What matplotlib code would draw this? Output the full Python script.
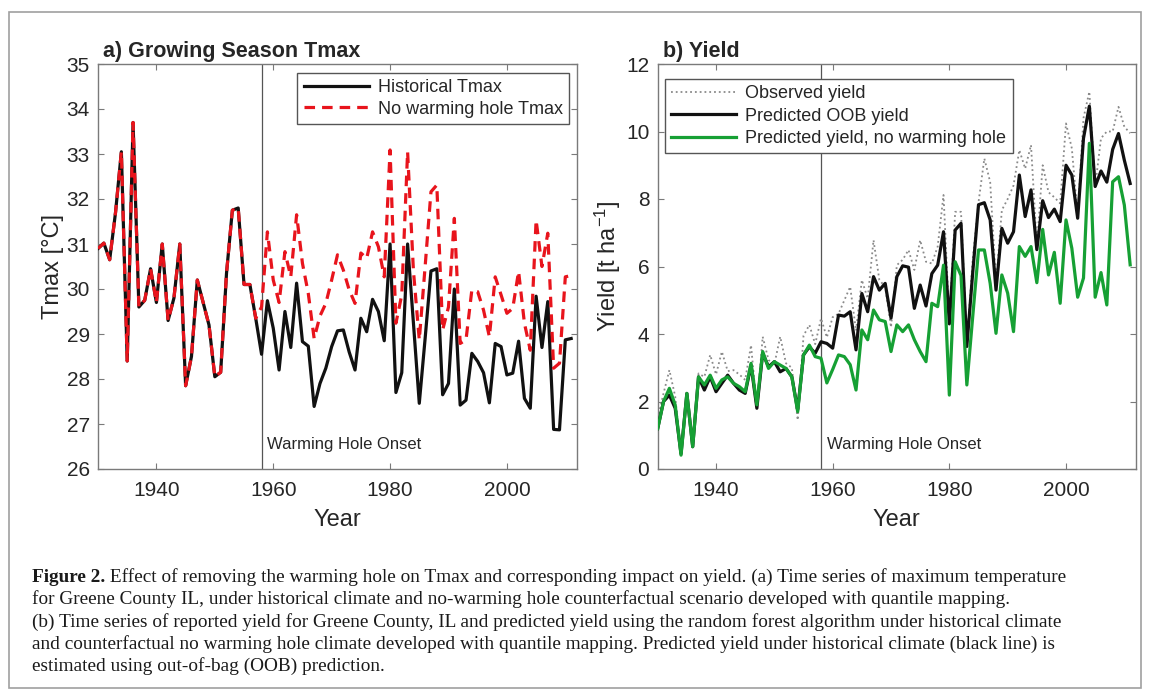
import numpy as np
import matplotlib
matplotlib.use("Agg")
import matplotlib.pyplot as plt
from matplotlib.patches import Rectangle

plt.rcParams['font.family'] = ['Liberation Sans', 'DejaVu Sans']
plt.rcParams['mathtext.fontset'] = 'custom'
plt.rcParams['mathtext.rm'] = 'Liberation Sans'
plt.rcParams['mathtext.it'] = 'Liberation Sans:italic'

years = np.arange(1930, 2012)

# growing season Tmax, historical (1930-2011)
tmax_hist = [30.9, 31.02, 30.65, 31.7, 33.05, 28.4, 33.7, 29.6, 29.75, 30.45,
             29.7, 31.0, 29.3, 29.8, 31.0, 27.85, 28.5, 30.2, 29.7, 29.2,
             28.05, 28.15, 30.35, 31.75, 31.8, 30.1, 30.1, 29.35, 28.55, 29.74,
             29.13, 28.2, 29.5, 28.7, 30.13, 28.83, 28.73, 27.39, 27.9, 28.24,
             28.72, 29.07, 29.09, 28.6, 28.2, 29.35, 29.05, 29.77, 29.5, 28.85,
             31.0, 27.7, 28.14, 31.0, 29.24, 27.46, 28.9, 30.4, 30.45, 27.65,
             27.9, 30.0, 27.42, 27.53, 28.57, 28.39, 28.14, 27.47, 28.79, 28.72,
             28.09, 28.13, 28.84, 27.57, 27.35, 29.84, 28.7, 29.72, 26.88, 26.87,
             28.87, 28.9]

# no warming hole Tmax from the onset year (1958-2011), same as historical before
onset = 1958
tmax_nowh_after = [29.6, 31.27, 30.2, 29.7, 30.83, 30.27, 31.65, 30.57, 29.9, 28.9,
                   29.4, 29.68, 30.2, 30.76, 30.42, 29.98, 29.68, 30.8, 30.68, 31.27,
                   30.94, 30.27, 33.09, 29.24, 29.87, 33.05, 30.4, 28.87, 30.5, 32.16,
                   32.31, 29.09, 29.6, 31.57, 28.79, 28.87, 29.98, 29.94, 29.53, 28.94,
                   30.27, 29.87, 29.46, 29.57, 30.39, 29.24, 28.64, 31.53, 30.5, 31.24,
                   28.24, 28.35, 30.27, 30.3]

# yield [t/ha]
yield_obs = [1.5, 2.24, 2.93, 2.15, 0.45, 2.24, 0.66, 2.83, 2.73, 3.38,
             2.8, 3.48, 2.9, 2.93, 2.8, 2.64, 3.67, 1.8, 3.92, 3.23,
             3.1, 3.92, 3.13, 3.0, 1.45, 3.95, 4.27, 3.7, 4.46, 3.9,
             4.5, 4.6, 5.0, 5.4, 4.1, 5.6, 5.05, 6.78, 5.6, 5.4,
             4.2, 6.04, 6.2, 6.49, 5.9, 6.78, 6.14, 6.09, 6.59, 8.12,
             4.4, 7.62, 7.62, 3.7, 6.2, 7.9, 9.2, 8.5, 5.5, 7.67,
             8.0, 8.4, 9.45, 8.9, 9.6, 6.6, 9.0, 8.2, 8.05, 7.87,
             10.24, 9.5, 7.5, 10.4, 11.18, 8.37, 9.8, 10.0, 10.0, 10.73,
             10.14, 9.95]
yield_oob = [1.2, 2.0, 2.19, 1.8, 0.45, 2.24, 0.66, 2.73, 2.34, 2.73,
             2.29, 2.54, 2.78, 2.54, 2.34, 2.24, 3.08, 1.8, 3.43, 3.03,
             3.18, 2.88, 2.98, 2.73, 1.75, 3.38, 3.62, 3.43, 3.77, 3.72,
             3.58, 4.56, 4.53, 4.66, 3.53, 5.2, 4.66, 5.7, 5.3, 5.5,
             4.47, 5.7, 6.02, 5.98, 4.76, 5.45, 4.83, 5.79, 6.04, 7.03,
             4.3, 7.08, 7.28, 3.63, 5.8, 7.83, 7.89, 7.38, 5.3, 7.13,
             6.69, 7.03, 8.71, 7.48, 8.27, 6.5, 7.95, 7.45, 7.7, 7.33,
             9.0, 8.71, 7.43, 9.8, 10.75, 8.37, 8.83, 8.5, 9.47, 9.94,
             9.15, 8.46]
yield_nowh = [1.2, 2.0, 2.39, 1.9, 0.41, 2.24, 0.66, 2.73, 2.49, 2.78,
              2.39, 2.64, 2.73, 2.54, 2.44, 2.29, 3.13, 1.9, 3.48, 2.98,
              3.18, 3.08, 2.98, 2.73, 1.7, 3.38, 3.67, 3.33, 3.28, 2.55,
              2.95, 3.38, 3.33, 3.09, 2.34, 4.12, 3.83, 4.71, 4.42, 4.37,
              3.48, 4.27, 4.07, 4.27, 3.83, 3.48, 3.18, 4.91, 4.81, 6.04,
              2.19, 6.14, 5.73, 2.49, 4.5, 6.49, 6.49, 5.5, 4.02, 5.75,
              5.21, 4.07, 6.59, 6.3, 6.59, 5.52, 7.1, 5.75, 6.42, 4.91,
              7.38, 6.54, 5.09, 5.66, 9.65, 5.09, 5.82, 4.86, 8.51, 8.66,
              7.82, 6.05]

n_before = onset - years[0]
tmax_nowh = tmax_hist[:n_before] + tmax_nowh_after

W, H = 1153, 697
fig = plt.figure(figsize=(W / 100, H / 100), dpi=100)

def px_axes(x0, y0, x1, y1):
    return fig.add_axes([x0 / W, 1 - y1 / H, (x1 - x0) / W, (y1 - y0) / H])

ax1 = px_axes(98, 64, 577, 469)
ax2 = px_axes(657.7, 64, 1136, 469)

spine_c = '#7a7a7a'
text_c = '#262626'
for ax in (ax1, ax2):
    for s in ax.spines.values():
        s.set_color(spine_c)
        s.set_linewidth(1.0)
    ax.tick_params(direction='in', top=True, right=True, length=4, width=0.8,
                   color=spine_c, labelcolor=text_c, labelsize=15, pad=6)
    ax.tick_params(axis='x', pad=9)
    ax.set_xlim(1930, 2012)
    ax.set_xticks([1940, 1960, 1980, 2000])
    ax.axvline(onset, color='#555555', lw=0.9, zorder=1)
    ax.set_xlabel('Year', fontsize=17, color=text_c, labelpad=6)

# a) Tmax
ax1.plot(years, tmax_hist, color='#111111', lw=2.3, label='Historical Tmax', zorder=3)
ax1.plot(years, tmax_nowh, color='#e8141c', lw=2.3, dashes=(3.3, 2.2),
         label='No warming hole Tmax', zorder=4)
ax1.set_ylim(26, 35)
ax1.set_yticks(range(26, 36))
ax1.set_ylabel('Tmax [°C]', fontsize=17, color=text_c, labelpad=2)
ax1.text(1959.0, 26.45, 'Warming Hole Onset', fontsize=12, color=text_c, va='baseline')
ax1.text(0.01, 1.017, 'a) Growing Season Tmax', transform=ax1.transAxes,
         fontsize=15.5, fontweight='bold', color=text_c, va='baseline')
leg1 = ax1.legend(loc='upper right', bbox_to_anchor=(1 - 8 / 479, 1 - 8.7 / 405),
                  borderaxespad=0, fontsize=13, handlelength=3.6, frameon=True,
                  fancybox=False, framealpha=1, edgecolor='#555555',
                  labelspacing=0.25, borderpad=0.35, handletextpad=0.5)
leg1.get_frame().set_linewidth(1.0)
for t in leg1.get_texts():
    t.set_color(text_c)

# b) Yield
ax2.plot(years, yield_obs, color='#8a8a8a', lw=1.3, ls=':', label='Observed yield', zorder=2)
ax2.plot(years, yield_oob, color='#111111', lw=2.3, label='Predicted OOB yield', zorder=3)
ax2.plot(years, yield_nowh, color='#16a034', lw=2.3,
         label='Predicted yield, no warming hole', zorder=4)
ax2.set_ylim(0, 12)
ax2.set_yticks(range(0, 13, 2))
ax2.set_ylabel('Yield [t ha$^{-1}$]', fontsize=17, color=text_c, labelpad=2)
ax2.text(1959.0, 0.6, 'Warming Hole Onset', fontsize=12, color=text_c, va='baseline')
ax2.text(0.011, 1.017, 'b) Yield', transform=ax2.transAxes,
         fontsize=15.5, fontweight='bold', color=text_c, va='baseline')
leg2 = ax2.legend(loc='upper left', bbox_to_anchor=(7.3 / 478, 1 - 15 / 405),
                  borderaxespad=0, fontsize=13, handlelength=3.6, frameon=True,
                  fancybox=False, framealpha=1, edgecolor='#555555',
                  labelspacing=0.3, borderpad=0.35, handletextpad=0.5)
leg2.get_frame().set_linewidth(1.0)
for t in leg2.get_texts():
    t.set_color(text_c)

# outer frame
fig.patches.append(Rectangle((9 / W, 1 - 688 / H), 1132 / W, 676 / H,
                             transform=fig.transFigure, fill=False,
                             edgecolor='#a0a0a0', lw=1.2))

# caption
cap_font = ['Liberation Serif', 'DejaVu Serif']
cap_size = 13.9
cap_x = 32 / W
cap_lines = [
    "for Greene County IL, under historical climate and no-warming hole counterfactual scenario developed with quantile mapping.",
    "(b) Time series of reported yield for Greene County, IL and predicted yield using the random forest algorithm under historical climate",
    "and counterfactual no warming hole climate developed with quantile mapping. Predicted yield under historical climate (black line) is",
    "estimated using out-of-bag (OOB) prediction.",
]
y0 = 582
bold = fig.text(cap_x, 1 - y0 / H, 'Figure 2.', family=cap_font, fontsize=cap_size,
                fontweight='bold', color='#1a1a1a', va='baseline')
ax1.annotate(' Effect of removing the warming hole on Tmax and corresponding impact on yield. '
             '(a) Time series of maximum temperature',
             xy=(1, 1 - y0 / H), xycoords=(bold, 'figure fraction'),
             family=cap_font, fontsize=cap_size, color='#1a1a1a', va='baseline',
             ha='left', annotation_clip=False)
for i, line in enumerate(cap_lines):
    fig.text(cap_x, 1 - (y0 + 22.3 * (i + 1)) / H, line, family=cap_font,
             fontsize=cap_size, color='#1a1a1a', va='baseline')

fig.savefig('out.png', dpi=100)
